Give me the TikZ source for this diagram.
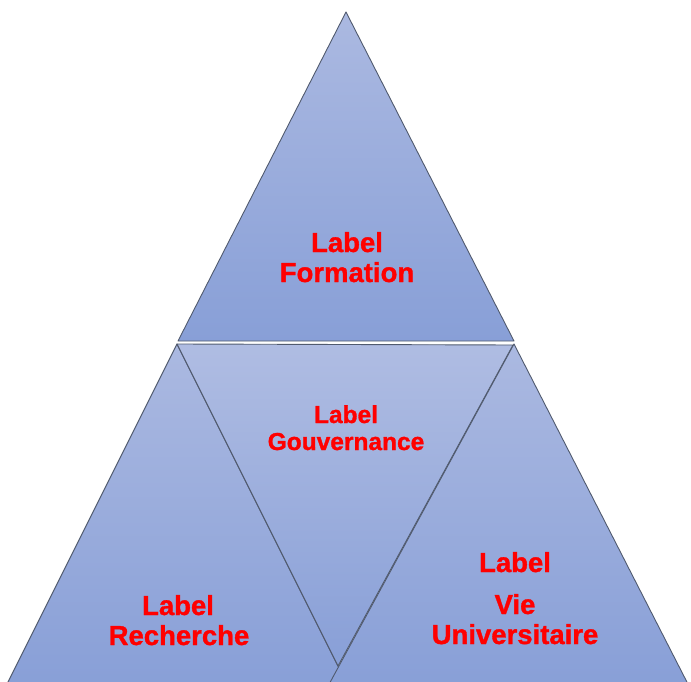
\documentclass[tikz,border=0pt]{standalone}
\usepackage{fontspec}
\setmainfont{Liberation Sans}[BoldFeatures={FakeBold=1.2}]
\definecolor{triTop}{RGB}{171,185,225}
\definecolor{triBot}{RGB}{136,159,215}
\definecolor{triEdge}{RGB}{80,90,110}
\definecolor{lblRed}{RGB}{255,0,0}
\begin{document}
\begin{tikzpicture}[x=1pt,y=-1pt,
  tri/.style={draw=triEdge,line width=0.9pt,line join=round,top color=triTop,bottom color=triBot},
  lbl/.style={text=lblRed,font=\bfseries\fontsize{27.5}{30}\selectfont,anchor=base,inner sep=0pt},
  lblsmall/.style={lbl,font=\bfseries\fontsize{24.5}{27}\selectfont}]
\useasboundingbox (0,0) rectangle (691,682);
\begin{scope}
\clip (0,0) rectangle (691,682);
% top triangle
\path[tri] (346,12) -- (178,341) -- (514,341) -- cycle;
% bottom-left triangle
\path[tri] (177,344) -- (5,688) -- (349,688) -- cycle;
% middle inverted triangle
\path[tri,top color=triTop!95!white,bottom color=triBot] (177,344) -- (513,345) -- (338,666) -- cycle;
% bottom-right triangle
\path[tri] (514,344) -- (327,688) -- (690,688) -- cycle;
\end{scope}
% labels
\node[lbl] (f1) at (347,252) {Label};
\node[lbl] (f2) at (347,282) {Formation};
\node[lblsmall] (g1) at (346,423) {Label};
\node[lblsmall] (g2) at (346,450) {Gouvernance};
\node[lbl] (r1) at (178,615) {Label};
\node[lbl] (r2) at (179,645) {Recherche};
\node[lbl] (v1) at (515,572) {Label};
\node[lbl] (v2) at (515,614) {Vie};
\node[lbl] (v3) at (515,644) {Universitaire};
\end{tikzpicture}
\end{document}
